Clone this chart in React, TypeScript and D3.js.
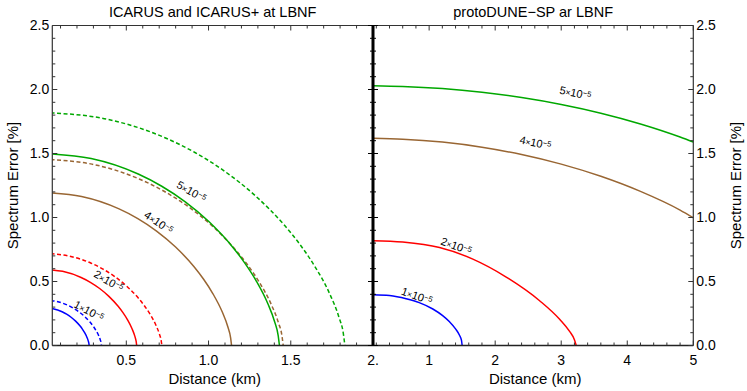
import React from 'react';
import * as d3 from 'd3';

const leftTitle = 'ICARUS and ICARUS+ at LBNF';
const rightTitle = 'protoDUNE\u2212SP ar LBNF';
const xLabel = 'Distance (km)';
const yLabel = 'Spectrum Error [%]';

const yTicks = [0, 0.5, 1.0, 1.5, 2.0, 2.5];
const yTickLabels = ['0.0', '0.5', '1.0', '1.5', '2.0', '2.5'];
const leftXTicks = [0.5, 1.0, 1.5, 2.0];
const leftXTickLabels = ['0.5', '1.0', '1.5', '2.'];
const rightXTicks = [1, 2, 3, 4, 5];
const rightXTickLabels = ['1', '2', '3', '4', '5'];

// ICARUS panel (solid = ICARUS, dashed = ICARUS+)
const icarusBlue = [[0, 0.295], [0.0548, 0.2873], [0.1096, 0.2634], [0.137, 0.2447], [0.1644, 0.2207], [0.1918, 0.1904], [0.2192, 0.1519], [0.2329, 0.1282], [0.2466, 0.1002], [0.2603, 0.065], [0.2685, 0.0362], [0.2726, 0.0148], [0.274, 0]];
const icarusPlusBlue = [[0, 0.355], [0.0698, 0.3457], [0.1396, 0.317], [0.1745, 0.2945], [0.2094, 0.2656], [0.2443, 0.2292], [0.2792, 0.1828], [0.2967, 0.1543], [0.3141, 0.1206], [0.3316, 0.0782], [0.342, 0.0435], [0.3473, 0.0178], [0.349, 0]];
const icarusRed = [[0, 0.595], [0.1126, 0.5794], [0.2252, 0.5313], [0.2815, 0.4936], [0.3378, 0.4452], [0.3941, 0.3841], [0.4504, 0.3063], [0.4786, 0.2586], [0.5067, 0.2022], [0.5349, 0.131], [0.5517, 0.0729], [0.5602, 0.0298], [0.563, 0]];
const icarusPlusRed = [[0, 0.72], [0.1432, 0.7011], [0.2864, 0.6429], [0.358, 0.5972], [0.4296, 0.5387], [0.5012, 0.4648], [0.5728, 0.3707], [0.6086, 0.3129], [0.6444, 0.2447], [0.6802, 0.1585], [0.7017, 0.0883], [0.7124, 0.036], [0.716, 0]];
const icarusBrown = [[0, 1.195], [0.228, 1.1637], [0.456, 1.067], [0.57, 0.9913], [0.684, 0.8941], [0.798, 0.7714], [0.912, 0.6152], [0.969, 0.5193], [1.026, 0.4061], [1.083, 0.2631], [1.1172, 0.1465], [1.1343, 0.0598], [1.14, 0]];
const icarusPlusBrown = [[0, 1.455], [0.2908, 1.4169], [0.5816, 1.2992], [0.727, 1.2069], [0.8724, 1.0886], [1.0178, 0.9392], [1.1632, 0.749], [1.2359, 0.6323], [1.3086, 0.4944], [1.3813, 0.3204], [1.4249, 0.1784], [1.4467, 0.0728], [1.454, 0]];
const icarusGreen = [[0, 1.5], [0.2862, 1.4607], [0.5724, 1.3394], [0.7155, 1.2443], [0.8586, 1.1223], [1.0017, 0.9683], [1.1448, 0.7722], [1.2164, 0.6519], [1.2879, 0.5097], [1.3595, 0.3303], [1.4024, 0.1839], [1.4238, 0.075], [1.431, 0]];
const icarusPlusGreen = [[0, 1.82], [0.3658, 1.7723], [0.7316, 1.6251], [0.9145, 1.5097], [1.0974, 1.3617], [1.2803, 1.1748], [1.4632, 0.9369], [1.5547, 0.791], [1.6461, 0.6184], [1.7376, 0.4008], [1.7924, 0.2231], [1.8199, 0.091], [1.829, 0]];

// protoDUNE-SP panel
const protoBlue = [[0.15, 0.397], [0.4, 0.39], [0.652, 0.365], [0.85, 0.335], [1.056, 0.285], [1.2, 0.235], [1.309, 0.185], [1.4, 0.13], [1.46, 0.08], [1.49, 0.04], [1.5, 0]];
const protoRed = [[0.15, 0.819], [0.6, 0.808], [1.157, 0.765], [1.662, 0.675], [2.167, 0.535], [2.673, 0.35], [2.976, 0.205], [3.127, 0.11], [3.2, 0.045], [3.227, 0]];
const protoBrown = [[0.15, 1.619], [0.6, 1.612], [1.2, 1.589], [1.8, 1.549], [2.4, 1.492], [3.0, 1.417], [3.6, 1.322], [4.2, 1.204], [4.8, 1.058], [5, 0.998]];
const protoGreen = [[0.15, 2.03], [0.6, 2.024], [1.2, 2.007], [1.8, 1.978], [2.4, 1.937], [3.0, 1.883], [3.6, 1.815], [4.2, 1.731], [4.8, 1.629], [5, 1.59]];

const blue = '#0000ff';
const red = '#ff0000';
const brown = '#996633';
const green = '#00a800';

const leftSeries = [
  { data: icarusBlue, color: blue, dashed: false },
  { data: icarusPlusBlue, color: blue, dashed: true },
  { data: icarusRed, color: red, dashed: false },
  { data: icarusPlusRed, color: red, dashed: true },
  { data: icarusBrown, color: brown, dashed: false },
  { data: icarusPlusBrown, color: brown, dashed: true },
  { data: icarusGreen, color: green, dashed: false },
  { data: icarusPlusGreen, color: green, dashed: true },
];
const rightSeries = [
  { data: protoBlue, color: blue, dashed: false },
  { data: protoRed, color: red, dashed: false },
  { data: protoBrown, color: brown, dashed: false },
  { data: protoGreen, color: green, dashed: false },
];

// contour labels: [x, y, angle, mantissa]
const leftLabels = [[0.896, 1.203, 30, '5'], [0.697, 0.961, 34, '4'], [0.393, 0.504, 30, '2'], [0.273, 0.27, 28, '1']];
const rightLabels = [[3.214, 1.973, 12, '5'], [2.609, 1.584, 12, '4'], [1.41, 0.777, 20, '2'], [0.815, 0.387, 20, '1']];

const W = 747;
const H = 391;
const top = 25.5;
const bottom = 345.5;
const leftX0 = 52.3;
const mid = 373;
const rightX1 = 693.3;
const font = '"Liberation Sans", Arial, Helvetica, sans-serif';

function range(a: number, b: number, step: number) {
  const out: number[] = [];
  for (let i = 0; a + i * step <= b + 1e-9; i++) out.push(+(a + i * step).toFixed(4));
  return out;
}

function Panel({ id, x0, x1, domain, series, labels, xTicks, xTickLabels, minorStep, title, yLeft, yRight }: any) {
  const x = d3.scaleLinear().domain(domain).range([x0, x1]);
  const y = d3.scaleLinear().domain([0, 2.5]).range([bottom, top]);
  const line = d3.line<number[]>().x((d) => x(d[0])).y((d) => y(d[1])).curve(d3.curveMonotoneX);
  const minorX = range(0, domain[1], minorStep).filter((v) => v > domain[0] && !xTicks.some((t: number) => Math.abs(t - v) < 1e-6));
  const minorY = range(0, 2.5, 0.1).filter((v) => !yTicks.some((t) => Math.abs(t - v) < 1e-6));
  const tickColor = '#333';
  return (
    <g>
      <defs>
        <clipPath id={id}>
          <rect x={x0} y={top} width={x1 - x0} height={bottom - top} />
        </clipPath>
      </defs>
      <text x={(x0 + x1) / 2} y={17} textAnchor="middle" fontSize={14.5} fontFamily={font}>{title}</text>
      <g clipPath={`url(#${id})`}>
        {series.map((s: any, i: number) => (
          <path key={i} d={line(s.data) || ''} fill="none" stroke={s.color} strokeWidth={1.5} strokeDasharray={s.dashed ? '4,2.5' : undefined} />
        ))}
      </g>
      {labels.map((l: any, i: number) => (
        <text key={i} transform={`translate(${x(l[0])},${y(l[1])}) rotate(${l[2]})`} textAnchor="middle" dy="0.35em" fontSize={11} fontFamily={font} fill="#000">
          {l[3]}<tspan fontSize={8.5}>{'\u00d7'}</tspan>10<tspan fontSize={7.5} dy={-3}>{'\u2212'}5</tspan>
        </text>
      ))}
      {/* frame */}
      <line x1={x0} x2={x1} y1={top} y2={top} stroke={tickColor} strokeWidth={1} />
      <line x1={x0} x2={x1} y1={bottom} y2={bottom} stroke="#222" strokeWidth={1.3} />
      {xTicks.map((t: number, i: number) => (
        <g key={'xt' + i}>
          <line x1={x(t)} x2={x(t)} y1={bottom} y2={bottom - 5} stroke={tickColor} />
          <line x1={x(t)} x2={x(t)} y1={top} y2={top + 5} stroke={tickColor} />
          <text x={x(t)} y={365} textAnchor="middle" fontSize={14} fontFamily={font}>{xTickLabels[i]}</text>
        </g>
      ))}
      {minorX.map((t: number, i: number) => (
        <g key={'xm' + i}>
          <line x1={x(t)} x2={x(t)} y1={bottom} y2={bottom - 3} stroke={tickColor} />
          <line x1={x(t)} x2={x(t)} y1={top} y2={top + 3} stroke={tickColor} />
        </g>
      ))}
      <text x={(x0 + x1) / 2 + 2} y={384} textAnchor="middle" fontSize={15} fontFamily={font}>{xLabel}</text>
      {yLeft && (
        <g>
          <line x1={x0} x2={x0} y1={top} y2={bottom} stroke={tickColor} strokeWidth={1.2} />
          {yTicks.map((t, i) => (
            <g key={'yt' + i}>
              <line x1={x0} x2={x0 + 5} y1={y(t)} y2={y(t)} stroke={tickColor} />
              <text x={x0 - 3} y={y(t)} dy="0.35em" textAnchor="end" fontSize={14} fontFamily={font}>{yTickLabels[i]}</text>
            </g>
          ))}
          {minorY.map((t, i) => (
            <line key={'ym' + i} x1={x0} x2={x0 + 3} y1={y(t)} y2={y(t)} stroke={tickColor} />
          ))}
          <text transform={`translate(13,${(top + bottom) / 2}) rotate(-90)`} textAnchor="middle" dy="0.35em" fontSize={15} fontFamily={font}>{yLabel}</text>
        </g>
      )}
      {yRight && (
        <g>
          <line x1={x1} x2={x1} y1={top} y2={bottom} stroke={tickColor} strokeWidth={1.2} />
          {yTicks.map((t, i) => (
            <g key={'yr' + i}>
              <line x1={x1} x2={x1 - 5} y1={y(t)} y2={y(t)} stroke={tickColor} />
              <text x={x1 + 3} y={y(t)} dy="0.35em" textAnchor="start" fontSize={14} fontFamily={font}>{yTickLabels[i]}</text>
            </g>
          ))}
          {minorY.map((t, i) => (
            <line key={'yrm' + i} x1={x1} x2={x1 - 3} y1={y(t)} y2={y(t)} stroke={tickColor} />
          ))}
          <text transform={`translate(736,${(top + bottom) / 2}) rotate(-90)`} textAnchor="middle" dy="0.35em" fontSize={15} fontFamily={font}>{yLabel}</text>
        </g>
      )}
    </g>
  );
}

export default function App() {
  const y = d3.scaleLinear().domain([0, 2.5]).range([bottom, top]);
  const minorY = range(0, 2.5, 0.1);
  return (
    <svg width={W} height={H} style={{ position: 'absolute', left: 0, top: 0, background: '#fff' }}>
      <rect x={0} y={0} width={W} height={H} fill="#fff" />
      <Panel id="clipL" x0={leftX0} x1={mid} domain={[0.05, 2]} series={leftSeries} labels={leftLabels}
        xTicks={leftXTicks} xTickLabels={leftXTickLabels} minorStep={0.1} title={leftTitle} yLeft={true} yRight={false} />
      <Panel id="clipR" x0={mid} x1={rightX1} domain={[0.15, 5]} series={rightSeries} labels={rightLabels}
        xTicks={rightXTicks} xTickLabels={rightXTickLabels} minorStep={0.2} title={rightTitle} yLeft={false} yRight={true} />
      <line x1={mid} x2={mid} y1={top} y2={bottom} stroke="#000" strokeWidth={3} />
      {minorY.map((t, i) => {
        const major = Math.abs(t * 2 - Math.round(t * 2)) < 1e-6;
        const len = major ? 5 : 3;
        return <line key={i} x1={mid - len} x2={mid + len} y1={y(t)} y2={y(t)} stroke="#000" strokeWidth={1} />;
      })}
    </svg>
  );
}
